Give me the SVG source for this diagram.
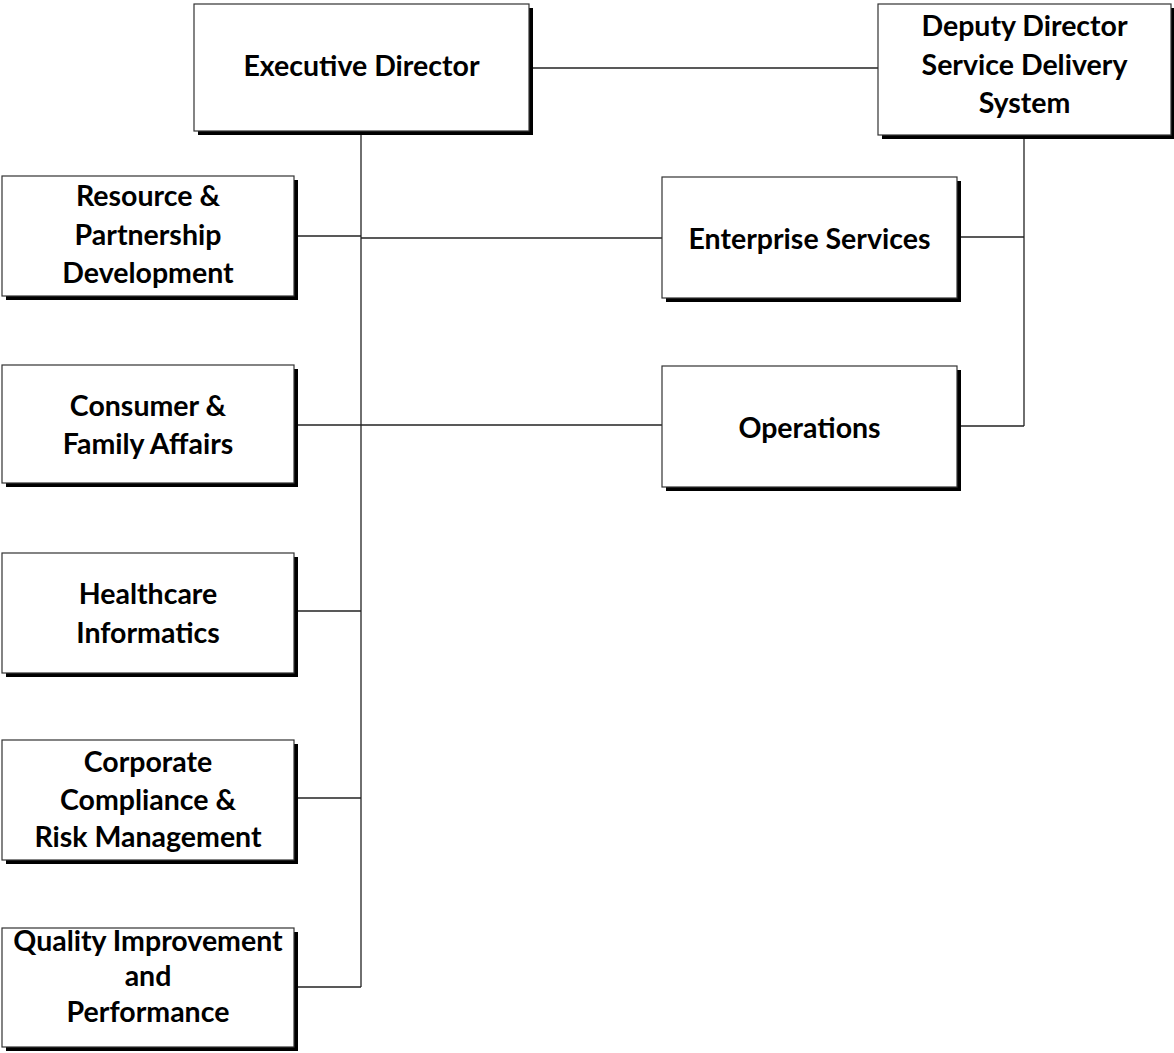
<svg xmlns="http://www.w3.org/2000/svg" width="1174" height="1053" viewBox="0 0 1174 1053">
  <style>
    .shadow { fill: #000; }
    .box { fill: #fff; stroke: #333; stroke-width: 1.2; }
    .label { font-family: Lato, "Open Sans", "Liberation Sans", sans-serif; font-weight: bold; font-size: 28.5px; fill: #000; text-anchor: middle; }
    .conn { stroke: #222; stroke-width: 1.3; fill: none; }
  </style>

  <!-- Connectors -->
  <g id="connectors">
    <line class="conn" x1="532" y1="68" x2="878" y2="68"/>
    <line class="conn" x1="361" y1="131" x2="361" y2="987"/>
    <line class="conn" x1="298" y1="236" x2="361" y2="236"/>
    <line class="conn" x1="361" y1="238" x2="662" y2="238"/>
    <line class="conn" x1="298" y1="425" x2="662" y2="425"/>
    <line class="conn" x1="298" y1="611" x2="361" y2="611"/>
    <line class="conn" x1="298" y1="798" x2="361" y2="798"/>
    <line class="conn" x1="298" y1="987" x2="361" y2="987"/>
    <line class="conn" x1="1024" y1="136" x2="1024" y2="426"/>
    <line class="conn" x1="960" y1="237" x2="1024" y2="237"/>
    <line class="conn" x1="960" y1="426" x2="1024" y2="426"/>
  </g>

  <!-- Nodes -->
  <g id="executive-director">
    <rect class="shadow" x="198" y="8" width="335" height="127"/>
    <rect class="box" x="194" y="4" width="335" height="127"/>
    <text class="label" x="361.5" y="76">Executive Director</text>
  </g>

  <g id="deputy-director">
    <rect class="shadow" x="882" y="8" width="294" height="131"/>
    <rect class="box" x="878" y="4" width="293" height="131"/>
    <text class="label" x="1024.5" y="36">Deputy Director</text>
    <text class="label" x="1024.5" y="75">Service Delivery</text>
    <text class="label" x="1024.5" y="113">System</text>
  </g>

  <g id="enterprise-services">
    <rect class="shadow" x="666" y="181" width="295" height="121"/>
    <rect class="box" x="662" y="177" width="295" height="121"/>
    <text class="label" x="809.5" y="249">Enterprise Services</text>
  </g>

  <g id="operations">
    <rect class="shadow" x="666" y="370" width="295" height="121"/>
    <rect class="box" x="662" y="366" width="295" height="121"/>
    <text class="label" x="809.5" y="438">Operations</text>
  </g>

  <g id="resource-partnership">
    <rect class="shadow" x="6" y="180" width="292" height="120"/>
    <rect class="box" x="2" y="176" width="292" height="120"/>
    <text class="label" x="148" y="206">Resource &amp;</text>
    <text class="label" x="148" y="245">Partnership</text>
    <text class="label" x="148" y="283">Development</text>
  </g>

  <g id="consumer-family">
    <rect class="shadow" x="6" y="369" width="292" height="118"/>
    <rect class="box" x="2" y="365" width="292" height="118"/>
    <text class="label" x="148" y="416">Consumer &amp;</text>
    <text class="label" x="148" y="454">Family Affairs</text>
  </g>

  <g id="healthcare-informatics">
    <rect class="shadow" x="6" y="557" width="292" height="120"/>
    <rect class="box" x="2" y="553" width="292" height="120"/>
    <text class="label" x="148" y="604">Healthcare</text>
    <text class="label" x="148" y="643">Informatics</text>
  </g>

  <g id="corporate-compliance">
    <rect class="shadow" x="6" y="744" width="292" height="120"/>
    <rect class="box" x="2" y="740" width="292" height="120"/>
    <text class="label" x="148" y="772">Corporate</text>
    <text class="label" x="148" y="810">Compliance &amp;</text>
    <text class="label" x="148" y="847">Risk Management</text>
  </g>

  <g id="quality-improvement">
    <rect class="shadow" x="6" y="932" width="292" height="119"/>
    <rect class="box" x="2" y="928" width="292" height="119"/>
    <text class="label" x="148" y="951">Quality Improvement</text>
    <text class="label" x="148" y="986">and</text>
    <text class="label" x="148" y="1022">Performance</text>
  </g>
</svg>
